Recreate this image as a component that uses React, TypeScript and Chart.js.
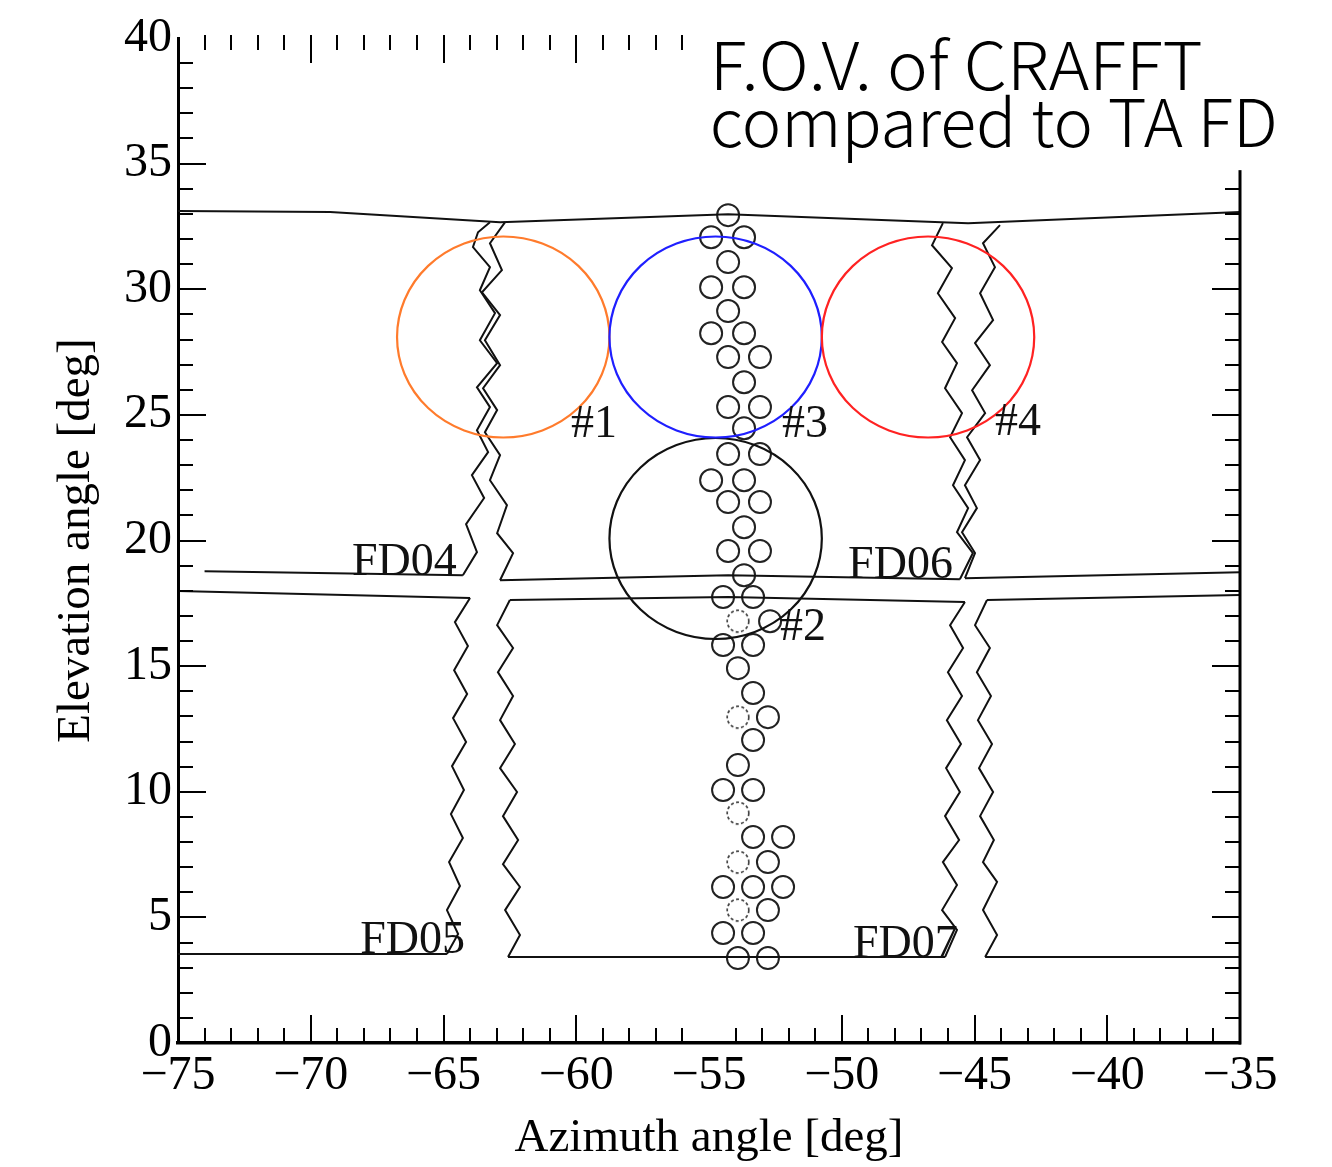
import React, { useEffect, useRef } from "react";
import { Chart, registerables } from "chart.js";

Chart.register(...registerables);

type P = [number, number];

// ---------- axes ----------
const X_MIN = -75;
const X_MAX = -35;
const Y_MIN = 0;
const Y_MAX = 40;
const xMajorTicks = [-75, -70, -65, -60, -55, -50, -45, -40, -35];
const xTickLabels = ["−75", "−70", "−65", "−60", "−55", "−50", "−45", "−40", "−35"];
const yMajorTicks = [0, 5, 10, 15, 20, 25, 30, 35, 40];
const yTickLabels = ["0", "5", "10", "15", "20", "25", "30", "35", "40"];
const bottomTickGaps = [-55];
const xTitle = "Azimuth angle [deg]";
const yTitle = "Elevation angle [deg]";

// ---------- TA FD field-of-view outlines ----------
const topEdge: P[] = [[-75, 33.11], [-69.27, 33.07], [-62.87, 32.67], [-54.28, 32.99], [-45.24, 32.63], [-35, 33.07]];
const fd04Bottom: P[] = [[-74, 18.78], [-64.27, 18.62]];
const midUpperBottom: P[] = [[-62.87, 18.42], [-54.28, 18.62], [-45.55, 18.46]];
const rightUpperBottom: P[] = [[-45.36, 18.5], [-35, 18.74]];
const fd05Top: P[] = [[-75, 17.99], [-64.0, 17.71]];
const midLowerTop: P[] = [[-62.5, 17.63], [-54.28, 17.75], [-45.36, 17.55]];
const rightLowerTop: P[] = [[-44.53, 17.63], [-35, 17.83]];
const fd05Bottom: P[] = [[-75, 3.54], [-64.87, 3.54]];
const midLowerBottom: P[] = [[-62.57, 3.42], [-46.11, 3.42]];
const rightLowerBottom: P[] = [[-44.6, 3.42], [-35, 3.42]];

const zigUpperLeftA: P[] = [
  [-63.25, 32.67], [-63.7, 32.27], [-63.89, 31.68], [-63.25, 30.88], [-63.63, 29.96], [-63.06, 29.05],
  [-63.63, 27.97], [-62.98, 27.06], [-63.74, 26.1], [-63.25, 25.31], [-63.74, 24.39], [-63.32, 23.52],
  [-63.93, 22.6], [-63.47, 21.69], [-64.15, 20.65], [-63.74, 19.54], [-64.27, 18.62],
];
const zigUpperLeftB: P[] = [
  [-62.68, 32.67], [-63.25, 31.83], [-62.8, 30.76], [-63.55, 29.88], [-62.87, 28.97], [-63.44, 27.97],
  [-62.87, 26.98], [-63.51, 26.06], [-62.98, 25.19], [-63.44, 24.31], [-62.87, 23.4], [-63.25, 22.4],
  [-62.61, 21.41], [-62.98, 20.29], [-62.38, 19.5], [-62.87, 18.42],
];
const zigLowerLeftA: P[] = [
  [-64.0, 17.71], [-64.57, 16.75], [-64.08, 15.8], [-64.6, 14.84], [-64.11, 13.89], [-64.64, 12.93],
  [-64.15, 11.98], [-64.68, 11.02], [-64.23, 10.07], [-64.72, 9.11], [-64.27, 8.16], [-64.79, 7.2],
  [-64.38, 6.25], [-64.87, 5.29], [-64.45, 4.34], [-64.87, 3.54],
];
const zigLowerLeftB: P[] = [
  [-62.5, 17.63], [-62.98, 16.63], [-62.38, 15.72], [-62.95, 14.76], [-62.38, 13.81], [-62.87, 12.85],
  [-62.31, 11.9], [-62.87, 10.94], [-62.23, 9.99], [-62.76, 9.03], [-62.19, 8.08], [-62.76, 7.12],
  [-62.12, 6.21], [-62.68, 5.29], [-62.12, 4.3], [-62.57, 3.42],
];
const zigUpperRightA: P[] = [
  [-46.19, 32.63], [-46.6, 31.75], [-45.85, 30.84], [-46.38, 29.84], [-45.73, 28.85], [-46.22, 27.9],
  [-45.66, 27.06], [-46.11, 26.06], [-45.47, 25.07], [-45.92, 24.11], [-45.36, 23.2], [-45.81, 22.2],
  [-45.24, 21.29], [-45.66, 20.33], [-45.06, 19.5], [-45.55, 18.46],
];
const zigUpperRightB: P[] = [
  [-44.04, 32.55], [-44.68, 31.83], [-44.23, 30.88], [-44.79, 29.84], [-44.3, 28.77], [-44.98, 27.86],
  [-44.42, 26.98], [-45.09, 25.98], [-44.6, 25.07], [-45.28, 24.11], [-44.79, 23.2], [-45.36, 22.2],
  [-44.91, 21.29], [-45.47, 20.33], [-44.98, 19.5], [-45.36, 18.5],
];
const zigLowerRightA: P[] = [
  [-45.36, 17.55], [-45.92, 16.63], [-45.43, 15.72], [-46.0, 14.76], [-45.47, 13.81], [-46.04, 12.85],
  [-45.51, 11.9], [-46.07, 10.94], [-45.55, 9.99], [-46.11, 9.03], [-45.58, 8.08], [-46.19, 7.2],
  [-45.66, 6.29], [-46.22, 5.29], [-45.66, 4.5], [-46.11, 3.42],
];
const zigLowerRightB: P[] = [
  [-44.53, 17.63], [-44.98, 16.63], [-44.42, 15.72], [-44.91, 14.76], [-44.38, 13.81], [-44.87, 12.85],
  [-44.34, 11.9], [-44.83, 10.94], [-44.3, 9.99], [-44.79, 9.03], [-44.27, 8.08], [-44.68, 7.2],
  [-44.15, 6.41], [-44.68, 5.29], [-44.15, 4.3], [-44.6, 3.42],
];

const fdLines: P[][] = [
  topEdge, fd04Bottom, midUpperBottom, rightUpperBottom, fd05Top, midLowerTop, rightLowerTop,
  fd05Bottom, midLowerBottom, rightLowerBottom,
  zigUpperLeftA, zigUpperLeftB, zigLowerLeftA, zigLowerLeftB,
  zigUpperRightA, zigUpperRightB, zigLowerRightA, zigLowerRightB,
];

// ---------- small pixel circles ----------
const pixelCircles: P[] = [
  [-54.28, 32.95],
  [-54.92, 32.07], [-53.68, 32.07],
  [-54.28, 31.08],
  [-54.92, 30.08], [-53.68, 30.08],
  [-54.28, 29.13],
  [-54.92, 28.25], [-53.68, 28.25],
  [-54.28, 27.3], [-53.08, 27.3],
  [-53.68, 26.3],
  [-54.28, 25.31], [-53.08, 25.31],
  [-53.68, 24.47],
  [-54.28, 23.44], [-53.08, 23.44],
  [-54.92, 22.4], [-53.68, 22.4],
  [-54.28, 21.53], [-53.08, 21.53],
  [-53.68, 20.53],
  [-54.28, 19.58], [-53.08, 19.58],
  [-53.68, 18.62],
  [-54.47, 17.75], [-53.34, 17.75],
  [-52.7, 16.79],
  [-54.47, 15.84], [-53.34, 15.84],
  [-53.91, 14.92],
  [-53.34, 13.93],
  [-52.78, 12.97],
  [-53.34, 12.06],
  [-53.91, 11.06],
  [-54.47, 10.07], [-53.34, 10.07],
  [-53.34, 8.2], [-52.21, 8.2],
  [-52.78, 7.2],
  [-54.47, 6.21], [-53.34, 6.21], [-52.21, 6.21],
  [-52.78, 5.29],
  [-54.47, 4.38], [-53.34, 4.38],
  [-53.91, 3.38], [-52.78, 3.38],
];
const faintPixelCircles: P[] = [
  [-53.91, 16.79], [-53.91, 12.97], [-53.91, 9.15], [-53.91, 7.2], [-53.91, 5.29],
];

// ---------- CRAFFT fields of view ----------
const fovNames = ["#1", "#2", "#3", "#4"];
const fovCenters: P[] = [[-62.75, 28.1], [-54.75, 20.08], [-54.75, 28.1], [-46.75, 28.1]];
const fovRadius = [4, 4, 4, 4];
const fovColors = ["#ff7b2c", "#111111", "#1f1fff", "#ff2222"];
const fovLabelPos: P[] = [[-60.2, 24.11], [-52.33, 16.04], [-52.25, 24.11], [-44.23, 24.19]];

const fdNames = ["FD04", "FD05", "FD06", "FD07"];
const fdLabelPos: P[] = [[-68.45, 18.62], [-68.14, 3.58], [-49.76, 18.5], [-49.58, 3.42]];

const titleLines = ["F.O.V. of CRAFFT", "compared to TA FD"];
const titleLinePos: P[] = [[-54.97, 37.95], [-54.97, 35.68]];
const titleLineWidths = [493, 568];
const titleBoxCorner: P = [-55.72, 34.74];

const SERIF = "'Liberation Serif', 'Times New Roman', serif";
const SANS = "'Noto Sans CJK JP', 'Noto Sans', sans-serif";

const toXY = (arr: P[]) => arr.map(([x, y]) => ({ x, y }));

function makeDashedCircle(): HTMLCanvasElement {
  const c = document.createElement("canvas");
  c.width = 28;
  c.height = 28;
  const g = c.getContext("2d")!;
  g.strokeStyle = "#444";
  g.lineWidth = 1.7;
  g.setLineDash([3, 2.4]);
  g.beginPath();
  g.arc(14, 14, 10.8, 0, Math.PI * 2);
  g.stroke();
  return c;
}

const decorPlugin = {
  id: "decor",
  afterDatasetsDraw(chart: any) {
    const { ctx } = chart;
    const xs = chart.scales.x;
    const ys = chart.scales.y;
    ctx.save();
    fovCenters.forEach(([cx, cy], i) => {
      const px = xs.getPixelForValue(cx);
      const py = ys.getPixelForValue(cy);
      const rx = Math.abs(xs.getPixelForValue(cx + fovRadius[i]) - px);
      const ry = Math.abs(ys.getPixelForValue(cy + fovRadius[i]) - py);
      ctx.strokeStyle = fovColors[i];
      ctx.lineWidth = 2.2;
      ctx.beginPath();
      ctx.ellipse(px, py, rx, ry, 0, 0, Math.PI * 2);
      ctx.stroke();
    });
    ctx.fillStyle = "#111";
    ctx.font = `46px ${SERIF}`;
    ctx.textAlign = "left";
    ctx.textBaseline = "alphabetic";
    fovNames.forEach((t, i) => {
      ctx.fillText(t, xs.getPixelForValue(fovLabelPos[i][0]), ys.getPixelForValue(fovLabelPos[i][1]));
    });
    fdNames.forEach((t, i) => {
      ctx.fillText(t, xs.getPixelForValue(fdLabelPos[i][0]), ys.getPixelForValue(fdLabelPos[i][1]));
    });
    ctx.restore();
  },
  afterDraw(chart: any) {
    const { ctx, chartArea: a } = chart;
    const xs = chart.scales.x;
    const ys = chart.scales.y;
    const MAJOR = 28;
    const MINOR = 15;
    ctx.save();
    ctx.strokeStyle = "#000";
    ctx.lineWidth = 3;
    ctx.beginPath();
    ctx.moveTo(a.right, a.top);
    ctx.lineTo(a.right, a.bottom + 1.5);
    ctx.stroke();
    ctx.lineWidth = 2;
    ctx.beginPath();
    for (let v = X_MIN + 1; v < X_MAX; v++) {
      const px = Math.round(xs.getPixelForValue(v));
      const len = v % 5 === 0 ? MAJOR : MINOR;
      if (!bottomTickGaps.includes(v)) {
        ctx.moveTo(px, a.bottom);
        ctx.lineTo(px, a.bottom - len);
      }
      ctx.moveTo(px, a.top - 3);
      ctx.lineTo(px, a.top + len - 3);
    }
    for (let v = Y_MIN + 1; v < Y_MAX; v++) {
      const py = Math.round(ys.getPixelForValue(v));
      const len = v % 5 === 0 ? MAJOR : MINOR;
      ctx.moveTo(a.left, py);
      ctx.lineTo(a.left + len, py);
      ctx.moveTo(a.right, py);
      ctx.lineTo(a.right - len, py);
    }
    ctx.stroke();

    // title box
    const bx = xs.getPixelForValue(titleBoxCorner[0]);
    const by = ys.getPixelForValue(titleBoxCorner[1]);
    ctx.fillStyle = "#fff";
    ctx.fillRect(bx, 0, chart.width - bx, by);
    ctx.fillStyle = "#000";
    ctx.font = `300 66px ${SANS}`;
    ctx.textAlign = "left";
    ctx.textBaseline = "alphabetic";
    titleLines.forEach((t, i) => {
      const w = ctx.measureText(t).width;
      const sx = titleLineWidths[i] / w;
      ctx.save();
      ctx.translate(xs.getPixelForValue(titleLinePos[i][0]), ys.getPixelForValue(titleLinePos[i][1]));
      ctx.scale(sx, 1);
      ctx.fillText(t, 0, 0);
      ctx.restore();
    });
    ctx.restore();
  },
};

export default function App() {
  const ref = useRef<HTMLCanvasElement | null>(null);
  useEffect(() => {
    const canvas = ref.current;
    if (!canvas) return;
    const dashed = makeDashedCircle();
    const lineSets = fdLines.map((pts) => ({
      data: toXY(pts),
      showLine: true,
      borderColor: "#111",
      borderWidth: 2,
      pointRadius: 0,
      fill: false,
      tension: 0,
    }));
    const chart = new Chart(canvas, {
      type: "scatter",
      data: {
        datasets: [
          ...lineSets,
          {
            data: toXY(pixelCircles),
            showLine: false,
            pointRadius: 11,
            pointBorderWidth: 2,
            pointBorderColor: "#222",
            pointBackgroundColor: "rgba(0,0,0,0)",
          },
          {
            data: toXY(faintPixelCircles),
            showLine: false,
            pointStyle: dashed as any,
            pointRadius: 11,
          },
        ] as any,
      },
      options: {
        animation: false,
        responsive: false,
        devicePixelRatio: 1,
        events: [],
        layout: { padding: { left: 0, right: 92, top: 38, bottom: 0 } },
        plugins: { legend: { display: false }, tooltip: { enabled: false } },
        scales: {
          x: {
            type: "linear",
            position: "bottom",
            min: X_MIN,
            max: X_MAX,
            afterFit: (s: any) => {
              s.height = 124;
            },
            ticks: {
              stepSize: 5,
              autoSkip: false,
              maxRotation: 0,
              padding: 5,
              color: "#000",
              font: { family: SERIF, size: 48 },
              callback: (v: any) => {
                const i = xMajorTicks.indexOf(Number(v));
                return i >= 0 ? xTickLabels[i] : "";
              },
            },
            grid: { display: false, drawTicks: false },
            border: { display: true, color: "#000", width: 3.5 },
            title: {
              display: true,
              text: xTitle,
              color: "#000",
              font: { family: SERIF, size: 47 },
              padding: { top: 0, bottom: 0 },
            },
          },
          y: {
            type: "linear",
            position: "left",
            min: Y_MIN,
            max: Y_MAX,
            afterFit: (s: any) => {
              s.width = 178;
            },
            ticks: {
              stepSize: 5,
              autoSkip: false,
              padding: 6,
              color: "#000",
              font: { family: SERIF, size: 48 },
              callback: (v: any) => {
                const i = yMajorTicks.indexOf(Number(v));
                return i >= 0 ? yTickLabels[i] : "";
              },
            },
            grid: { display: false, drawTicks: false },
            border: { display: true, color: "#000", width: 3 },
            title: {
              display: true,
              text: yTitle,
              color: "#000",
              font: { family: SERIF, size: 47 },
              padding: { top: 48, bottom: 0 },
            },
          },
        },
      },
      plugins: [decorPlugin as any],
    });
    return () => chart.destroy();
  }, []);
  return (
    <div style={{ position: "fixed", left: 0, top: 0, width: 1332, height: 1167, background: "#fff" }}>
      <canvas ref={ref} width={1332} height={1167} style={{ display: "block" }} />
    </div>
  );
}
